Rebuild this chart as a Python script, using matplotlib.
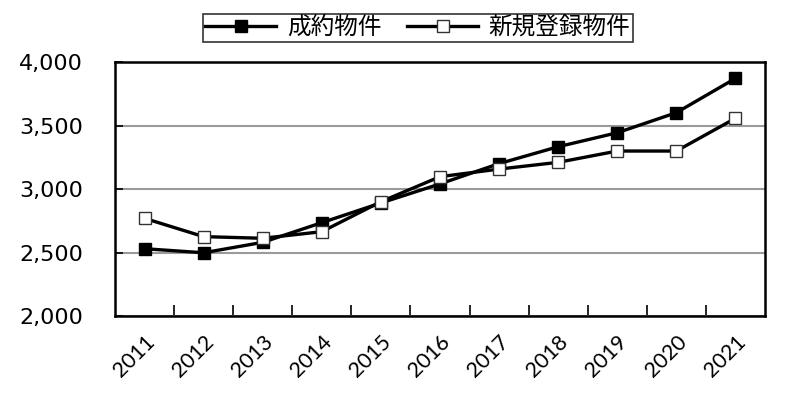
import matplotlib
matplotlib.use("Agg")
import matplotlib.pyplot as plt
from matplotlib.ticker import FuncFormatter

plt.rcParams['font.family'] = ['Noto Sans CJK JP', 'DejaVu Sans']

years = ['2011', '2012', '2013', '2014', '2015', '2016', '2017', '2018', '2019', '2020', '2021']
contracted = [2530, 2498, 2580, 2735, 2890, 3040, 3200, 3333, 3443, 3601, 3871]
new_listings = [2769, 2625, 2612, 2664, 2900, 3097, 3157, 3210, 3299, 3299, 3557]
series_names = ['成約物件', '新規登録物件']

fig = plt.figure(figsize=(7.99, 3.95), dpi=100)
ax = fig.add_axes([0.1439, 0.2, 0.8135, 0.643])

x = list(range(len(years)))
ax.plot(x, contracted, color='black', lw=2.4, marker='s', ms=9,
        mfc='black', mec='black', mew=1, label=series_names[0], zorder=3)
ax.plot(x, new_listings, color='black', lw=2.4, marker='s', ms=9,
        mfc='white', mec='#333333', mew=1, label=series_names[1], zorder=4)

ax.set_xlim(-0.5, len(years) - 0.5)
ax.set_ylim(2000, 4000)
ax.set_yticks([2000, 2500, 3000, 3500, 4000])
ax.yaxis.set_major_formatter(FuncFormatter(lambda v, p: f'{int(v):,}'))
ax.set_xticks([i + 0.5 for i in x[:-1]], minor=False)
ax.set_xticklabels([])
ax.set_xticks(x, minor=True)
ax.set_xticklabels(years, minor=True, rotation=45, ha='right', va='top',
                   rotation_mode='anchor', fontsize=15.5, family='Lato')
ax.tick_params(axis='x', which='minor', length=0, pad=11)
ax.tick_params(axis='x', which='major', direction='in', length=8, width=1.2)
ax.tick_params(axis='y', direction='in', length=6, width=1.2, labelsize=16, pad=23)
for lab in ax.get_yticklabels():
    lab.set_family('DejaVu Sans')

ax.grid(axis='y', color='#9a9a9a', lw=1.5)
ax.set_axisbelow(True)
for s in ax.spines.values():
    s.set_linewidth(1.8)
    s.set_color('black')

leg = fig.legend(loc='center', bbox_to_anchor=(0.523, 0.930), ncol=2,
                 frameon=True, fancybox=False, edgecolor='black',
                 fontsize=17, handlelength=3.0, columnspacing=1.1,
                 handletextpad=0.45, borderpad=0.1, borderaxespad=0)
leg.get_frame().set_linewidth(1.2)
fig.canvas.draw()
# widen frame horizontally like reference (more left padding)
frame = leg.get_frame()
bb = frame.get_bbox()
frame.set_bounds(bb.x0 - 14, bb.y0, bb.width + 20, bb.height)

fig.savefig('out.png', dpi=100)
